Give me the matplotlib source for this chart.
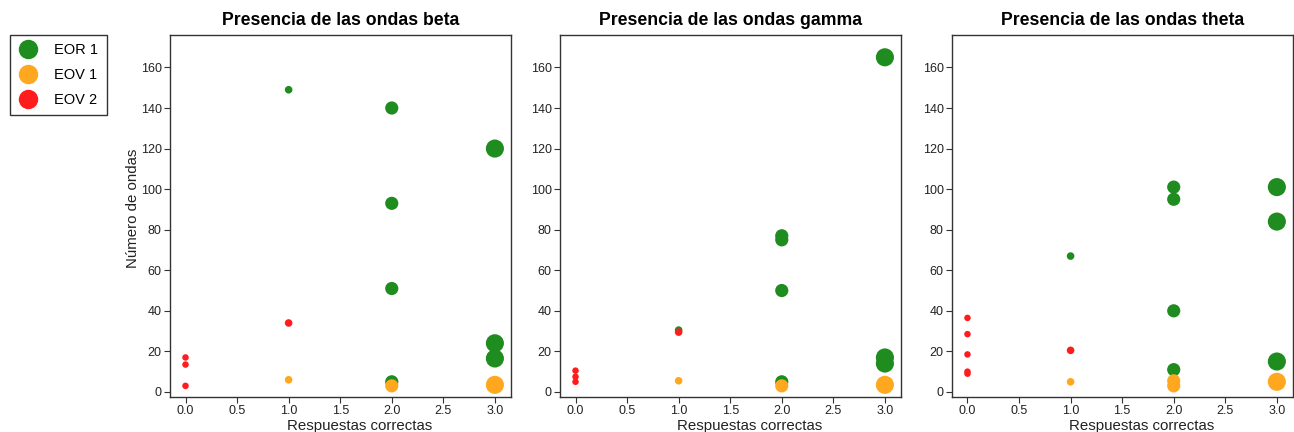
import matplotlib
matplotlib.use('Agg')
from matplotlib import pyplot as plt
from matplotlib.lines import Line2D

plt.rcParams['font.family'] = ['Liberation Sans', 'DejaVu Sans']

# valores: (respuestas correctas, numero de ondas)
beta_eor1 = [(1, 149), (2, 140), (2, 93), (2, 51), (2, 5), (3, 120), (3, 24), (3, 16.5)]
beta_eov1 = [(1, 6), (2, 3), (3, 3.5)]
beta_eov2 = [(0, 17), (0, 13.5), (0, 3), (1, 34)]

gamma_eor1 = [(1, 30.5), (2, 77), (2, 75), (2, 50), (2, 5), (3, 165), (3, 17), (3, 14)]
gamma_eov1 = [(1, 5.5), (2, 3), (3, 3.5)]
gamma_eov2 = [(0, 10.5), (0, 7.5), (0, 5), (1, 29.5)]

theta_eor1 = [(1, 67), (2, 101), (2, 95), (2, 40), (2, 11), (3, 101), (3, 84), (3, 15)]
theta_eov1 = [(1, 5), (2, 5.5), (2, 3), (3, 5)]
theta_eov2 = [(0, 36.5), (0, 28.5), (0, 18.5), (0, 10), (0, 9), (1, 20.5)]

titles = ['Presencia de las ondas beta', 'Presencia de las ondas gamma',
          'Presencia de las ondas theta']
series_names = ['EOR 1', 'EOV 1', 'EOV 2']
colors = ['#1E8C1E', '#FFA81F', '#FF1C1C']
# marker size grows with the number of correct answers
size_by_x = {0: 22, 1: 30, 2: 90, 3: 170}

panels = [
    (beta_eor1, beta_eov1, beta_eov2),
    (gamma_eor1, gamma_eov1, gamma_eov2),
    (theta_eor1, theta_eov1, theta_eov2),
]

fig = plt.figure(figsize=(12.94, 4.32), dpi=100)
lefts = [0.1314, 0.4328, 0.7357]

for i, (left, title, groups) in enumerate(zip(lefts, titles, panels)):
    ax = fig.add_axes([left, 0.081, 0.2638, 0.838])
    for pts, color in zip(groups, colors):
        xs = [p[0] for p in pts]
        ys = [p[1] for p in pts]
        ss = [size_by_x[p[0]] for p in pts]
        ax.scatter(xs, ys, s=ss, c=color, edgecolors='none', zorder=3)
    ax.set_xlim(-0.15, 3.16)
    ax.set_ylim(-2.5, 176)
    ax.set_xticks([0, 0.5, 1, 1.5, 2, 2.5, 3])
    ax.set_xticklabels(['0.0', '0.5', '1.0', '1.5', '2.0', '2.5', '3.0'])
    ax.set_yticks(range(0, 161, 20))
    ax.tick_params(labelsize=9, length=4, width=0.8, color='#333333',
                   labelcolor='#222222', pad=2)
    for sp in ax.spines.values():
        sp.set_color('#333333')
        sp.set_linewidth(1)
    ax.set_title(title, fontsize=12.7, fontweight='bold', pad=7)
    ax.set_xlabel('Respuestas correctas', fontsize=10.8, color='#222222')
    ax.xaxis.set_label_coords(0.555, -0.062, transform=ax.transAxes)
    ax.xaxis.label.set_va('top')
    if i == 0:
        ax.set_ylabel('Número de ondas', fontsize=10.8, color='#222222')
        ax.yaxis.set_label_coords(-0.088, 0.52, transform=ax.transAxes)

handles = [Line2D([], [], marker='o', linestyle='none', markersize=14,
                  markerfacecolor=c, markeredgecolor='none') for c in colors]
leg = fig.legend(handles, series_names, loc='upper left',
                 bbox_to_anchor=(10 / 1294, 397 / 432), borderaxespad=0,
                 fontsize=10.5, frameon=True, fancybox=False, edgecolor='black',
                 handletextpad=1.2, borderpad=0.55, labelspacing=0.75,
                 handlelength=1.3)
leg.get_frame().set_linewidth(1)

fig.savefig('out.png', dpi=100)
plt.close(fig)
